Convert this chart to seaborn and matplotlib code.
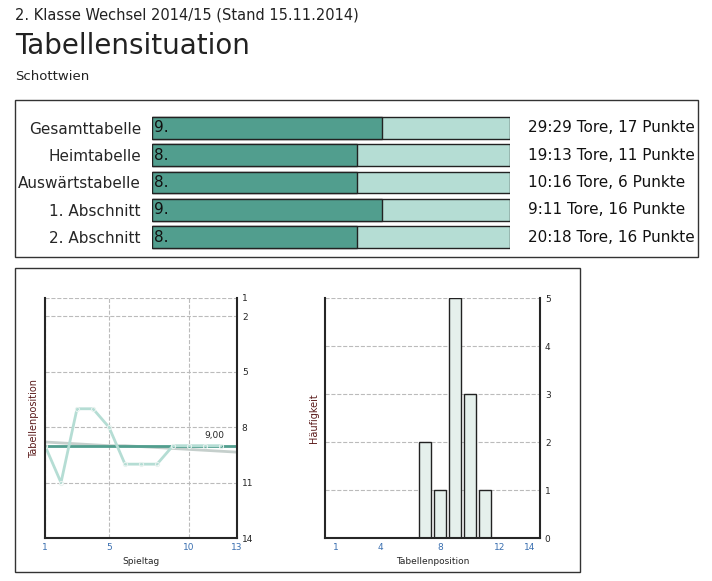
import pandas as pd
import matplotlib.pyplot as plt
import seaborn as sns
from matplotlib.patches import Rectangle

sns.set_style("white")
plt.rcParams['font.family'] = ['DejaVu Sans']

# data
tabellen = ["Gesamttabelle", "Heimtabelle", "Auswärtstabelle", "1. Abschnitt", "2. Abschnitt"]
platz = [9, 8, 8, 9, 8]
info = ["29:29 Tore, 17 Punkte", "19:13 Tore, 11 Punkte", "10:16 Tore, 6 Punkte",
        "9:11 Tore, 16 Punkte", "20:18 Tore, 16 Punkte"]
teams = 14

spieltag = [1, 2, 3, 4, 5, 6, 7, 8, 9, 10, 11, 12, 13]
position = [9, 11, 7, 7, 8, 10, 10, 10, 9, 9, 9, 9, 9]
aktuell = [9, 9, 9, 9, 9, 9, 9, 9, 9, 9, 9, 9, 9]
schnitt = [8.8, 8.85, 8.9, 8.95, 9.0, 9.0, 9.05, 9.1, 9.15, 9.2, 9.25, 9.3, 9.35]

hist_pos = [7, 8, 9, 10, 11]
hist_cnt = [2, 1, 5, 3, 1]

W, H = 712, 581
fig = plt.figure(figsize=(W / 100, H / 100), dpi=100)

def ax_px(x0, y0, x1, y1):
    return fig.add_axes([x0 / W, 1 - y1 / H, (x1 - x0) / W, (y1 - y0) / H])

fig.text(15 / W, 1 - 15 / H, "2. Klasse Wechsel 2014/15 (Stand 15.11.2014)", fontsize=10.5, va="center", color="#222")
fig.text(15 / W, 1 - 46 / H, "Tabellensituation", fontsize=20, va="center", color="#222")
fig.text(15 / W, 1 - 77 / H, "Schottwien", fontsize=9.5, va="center", color="#222")

# frames
fig.patches.append(Rectangle((15 / W, 1 - 257 / H), 683 / W, 157 / H, transform=fig.transFigure,
                             fill=False, ec="#333", lw=1))
fig.patches.append(Rectangle((15 / W, 1 - 572 / H), 565 / W, 304 / H, transform=fig.transFigure,
                             fill=False, ec="#333", lw=1))

# table bars
ax = ax_px(152, 114, 510, 251)
df = pd.DataFrame({"tab": tabellen, "frac": [p / teams for p in platz], "full": [1] * 5})
sns.barplot(data=df, y="tab", x="full", color="#b5ddd4", edgecolor="#222", linewidth=1, width=0.8, ax=ax, saturation=1)
sns.barplot(data=df, y="tab", x="frac", color="#519e8e", edgecolor="#222", linewidth=1, width=0.8, ax=ax, saturation=1)
ax.set_xlim(0, 1)
ax.set_xlabel("")
ax.set_ylabel("")
ax.set_xticks([])
ax.tick_params(axis="y", length=0, labelsize=11, pad=8)
for s in ax.spines.values():
    s.set_visible(False)
for i, (p, t) in enumerate(zip(platz, info)):
    ax.text(0.005, i, f"{p}.", va="center", fontsize=11, color="#111")
    ax.text(1.05, i, t, va="center", fontsize=11, color="#111")

# line chart
ax1 = ax_px(45, 298, 237, 538)
sns.lineplot(x=spieltag, y=schnitt, color="#c5cfcc", lw=2, ax=ax1)
sns.lineplot(x=spieltag, y=aktuell, color="#519e8e", lw=2, ax=ax1)
sns.lineplot(x=spieltag[:-1], y=position[:-1], color="#b5ddd4", lw=2, marker="o",
             markersize=3, markerfacecolor="none", markeredgecolor="#e8f2ef", ax=ax1)
ax1.set_xlim(1, 13)
ax1.set_ylim(14, 1)
ax1.set_xticks([1, 5, 10, 13])
ax1.set_yticks([1, 2, 5, 8, 11, 14])
ax1.yaxis.tick_right()
ax1.tick_params(labelsize=6.5, length=0)
for lab in ax1.get_xticklabels():
    lab.set_color("#3a6fb0")
ax1.grid(True, ls="--", color="#bbb", lw=0.8)
ax1.set_xlabel("Spieltag", fontsize=6.5)
ax1.set_ylabel("Tabellenposition", fontsize=7, color="#5a1a1a")
ax1.text(12.2, 8.6, "9,00", fontsize=6.5, ha="right")
ax1.spines["top"].set_visible(False)
for k in ["left", "right", "bottom"]:
    ax1.spines[k].set_lw(1.5)

# histogram
ax2 = ax_px(325, 298, 540, 538)
hdf = pd.DataFrame({"pos": hist_pos, "cnt": hist_cnt})
sns.barplot(data=hdf, x="pos", y="cnt", native_scale=True, color="#e5f0ec", edgecolor="#222",
            linewidth=1, width=0.8, saturation=1, ax=ax2)
ax2.set_xlim(0.3, 14.7)
ax2.set_ylim(0, 5)
ax2.set_xticks([1, 4, 8, 12, 14])
ax2.set_yticks(range(6))
ax2.yaxis.tick_right()
ax2.tick_params(labelsize=6.5, length=0)
for lab in ax2.get_xticklabels():
    lab.set_color("#3a6fb0")
ax2.grid(True, axis="y", ls="--", color="#bbb", lw=0.8)
ax2.set_axisbelow(True)
ax2.set_xlabel("Tabellenposition", fontsize=6.5)
ax2.set_ylabel("Häufigkeit", fontsize=7, color="#5a1a1a")
ax2.spines["top"].set_visible(False)
for k in ["left", "right", "bottom"]:
    ax2.spines[k].set_lw(1.5)

fig.savefig("out.png", dpi=100)
